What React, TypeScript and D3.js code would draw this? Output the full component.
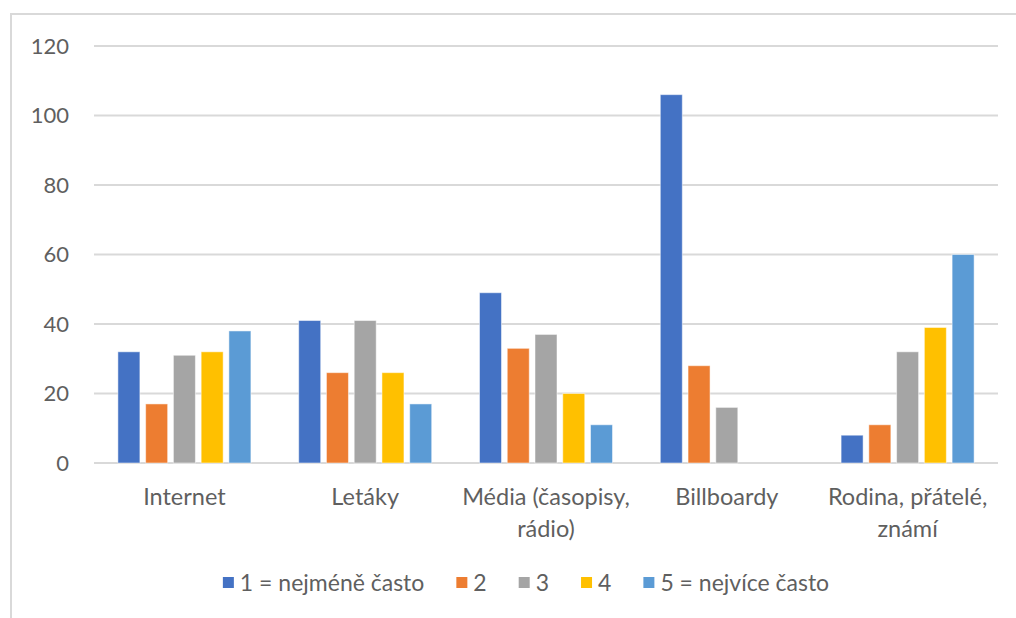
import React, { useEffect, useRef } from "react";
import * as d3 from "d3";

const categories = ["Internet", "Letáky", "Média (časopisy, rádio)", "Billboardy", "Rodina, přátelé, známí"];
const seriesNames = ["1 = nejméně často", "2", "3", "4", "5 = nejvíce často"];
const seriesColors = ["#4472C4", "#ED7D31", "#A5A5A5", "#FFC000", "#5B9BD5"];
const s1 = [32, 41, 49, 106, 8];
const s2 = [17, 26, 33, 28, 11];
const s3 = [31, 41, 37, 16, 32];
const s4 = [32, 26, 20, 0, 39];
const s5 = [38, 17, 11, 0, 60];
const seriesValues = [s1, s2, s3, s4, s5];
const yTicks = [0, 20, 40, 60, 80, 100, 120];

const W = 1016;
const H = 618;
const FONT = "Lato, 'Open Sans', sans-serif";
const TEXT = "#5f5f5f";

function wrap(label: string, maxChars: number): string[] {
  const words = label.split(" ");
  const lines: string[] = [];
  let cur = "";
  for (const w of words) {
    const next = cur ? cur + " " + w : w;
    if (next.length > maxChars && cur) {
      lines.push(cur);
      cur = w;
    } else cur = next;
  }
  if (cur) lines.push(cur);
  return lines;
}

export default function App() {
  const ref = useRef<SVGSVGElement>(null);
  useEffect(() => {
    const svg = d3.select(ref.current);
    svg.selectAll("*").remove();

    // chart border
    svg.append("rect").attr("x", 11).attr("y", 14).attr("width", 1100).attr("height", 700)
      .attr("fill", "#fff").attr("stroke", "#d9d9d9").attr("stroke-width", 2);

    const x0 = d3.scaleBand<string>().domain(categories).range([94, 998]).padding(0);
    const x1 = d3.scaleBand<string>().domain(seriesNames).range([0, x0.bandwidth()])
      .paddingInner(0.207).paddingOuter(0.861);
    const y = d3.scaleLinear().domain([0, 120]).range([463, 46]);

    const grid = svg.append("g");
    yTicks.forEach((t) => {
      grid.append("line").attr("x1", 94).attr("x2", 998).attr("y1", y(t)).attr("y2", y(t))
        .attr("stroke", "#d9d9d9").attr("stroke-width", 2);
      grid.append("text").attr("x", 69).attr("y", y(t)).attr("dy", "0.35em")
        .attr("text-anchor", "end").attr("font-family", FONT).attr("font-size", 22)
        .attr("fill", TEXT).text(String(t));
    });

    const bars = svg.append("g");
    categories.forEach((c, ci) => {
      seriesNames.forEach((s, si) => {
        const v = seriesValues[si][ci];
        if (!v) return;
        bars.append("rect")
          .attr("x", (x0(c) as number) + (x1(s) as number))
          .attr("y", y(v))
          .attr("width", x1.bandwidth())
          .attr("height", y(0) - y(v))
          .attr("fill", seriesColors[si])
          .attr("stroke", "#ffffff").attr("stroke-opacity", 0.5).attr("stroke-width", 1);
      });
    });

    const xl = svg.append("g");
    categories.forEach((c) => {
      const lines = wrap(c, 16);
      const t = xl.append("text").attr("text-anchor", "middle").attr("font-family", FONT)
        .attr("font-size", 23.5).attr("fill", TEXT);
      lines.forEach((ln, i) => {
        t.append("tspan").attr("x", (x0(c) as number) + x0.bandwidth() / 2)
          .attr("y", 505 + i * 32).text(ln);
      });
    });

    // legend
    const lg = svg.append("g");
    const items: { w: number; g: any }[] = [];
    seriesNames.forEach((s, i) => {
      const g = lg.append("g");
      g.append("rect").attr("x", 0).attr("y", -6).attr("width", 11).attr("height", 11)
        .attr("fill", seriesColors[i]);
      const txt = g.append("text").attr("x", 17).attr("y", 0).attr("dy", "0.35em")
        .attr("font-family", FONT).attr("font-size", 23).attr("fill", TEXT).text(s);
      const tw = (txt.node() as SVGTextElement).getComputedTextLength();
      items.push({ w: 17 + tw, g });
    });
    const gap = 32;
    const total = items.reduce((a, b) => a + b.w, 0) + gap * (items.length - 1);
    let cx = 526 - total / 2;
    items.forEach((it) => {
      it.g.attr("transform", `translate(${cx},583)`);
      cx += it.w + gap;
    });
  }, []);
  return (
    <svg ref={ref} width={W} height={H} style={{ position: "absolute", left: 0, top: 0, background: "#fff" }} />
  );
}
